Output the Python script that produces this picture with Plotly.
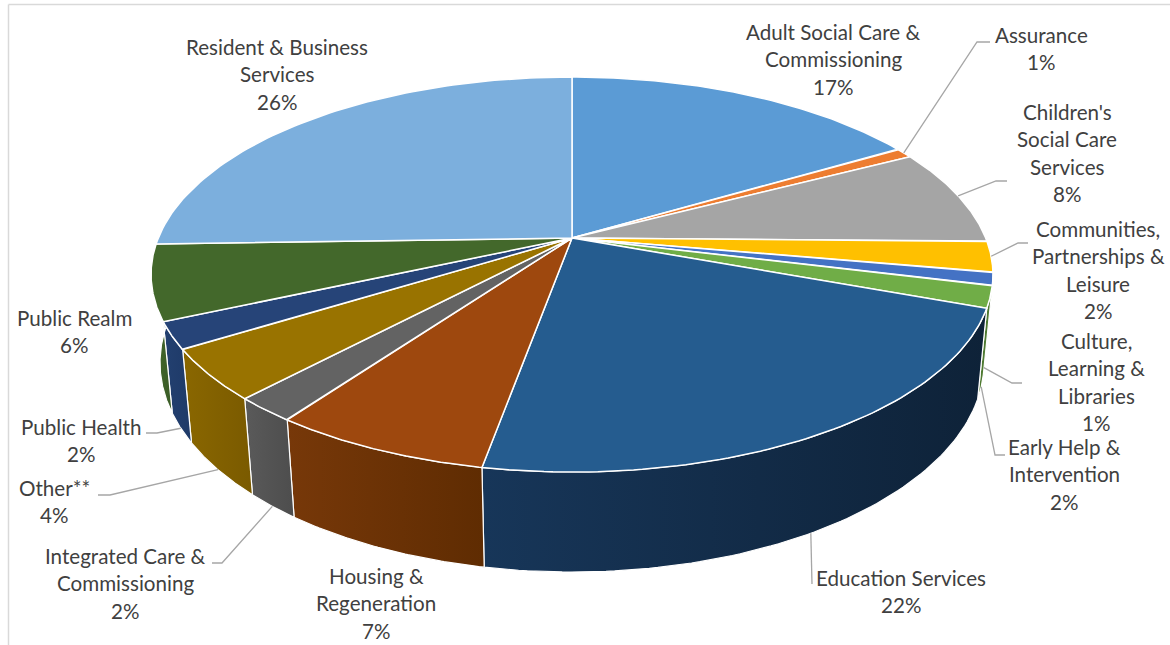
import numpy as np
import plotly.graph_objects as go

# ---- data ----
names = ["Adult Social Care &\nCommissioning", "Assurance", "Children's\nSocial Care\nServices",
         "Communities,\nPartnerships &\nLeisure", "Culture,\nLearning &\nLibraries",
         "Early Help &\nIntervention", "Education Services", "Housing &\nRegeneration",
         "Integrated Care &\nCommissioning", "Other**", "Public Health", "Public Realm",
         "Resident & Business\nServices"]
values = [16.5, 0.85, 7.9, 2.5, 1.05, 1.8, 22.25, 7.1, 2.05, 4.15, 2.2, 6.15, 25.5]
percent_labels = ["17%", "1%", "8%", "2%", "1%", "2%", "22%", "7%", "2%", "4%", "2%", "6%", "26%"]

# ---- style ----
top_colors = ["#5B9BD5", "#ED7D31", "#A5A5A5", "#FFC000", "#4472C4", "#70AD47", "#255C8F",
              "#9E480E", "#636363", "#997300", "#264478", "#43682B", "#7CAFDD"]
wall_left = ["#3f6f9a", "#a85820", "#777777", "#b58a00", "#304f8c", "#4f7a32", "#173659",
             "#773809", "#5a5a5a", "#8a6700", "#234070", "#43682B", "#5a7f9f"]
wall_right = ["#3f6f9a", "#a85820", "#777777", "#b58a00", "#304f8c", "#4f7a32", "#0e2238",
              "#5f2c02", "#4d4d4d", "#7a5a00", "#1e3a68", "#3a5c26", "#5a7f9f"]
# label layout: centre x, y of first line (pixels)
label_x = [833, 1041, 1067, 1098, 1096, 1064, 901, 376, 125, 54, 81, 74, 277]
label_y = [32, 35, 112, 229, 341, 447, 578, 576, 556, 488, 427, 318, 47]
line_gap = 27.4
# leaders: which rim the line starts on (0 = top, 1 = bottom), then elbow and end pixels
leader_rim = {1: 0, 2: 0, 3: 0, 4: 1, 5: 1, 6: 1, 8: 1, 9: 1, 10: 1}
leader_path = {1: [(977, 42), (990, 42)], 2: [(996, 181), (1007, 181)], 3: [(1018, 243), (1028, 243)],
               4: [(1012, 383), (1022, 383)], 5: [(995, 455), (1005, 455)], 6: [(812, 584)],
               8: [(222, 563), (212, 563)], 9: [(110, 495), (98, 495)], 10: [(157, 433), (146, 433)]}

# perspective model of the disc (pixels)
CX, CY, A, B, K, M, C = 572, 238, 190.8, 413.7, 0.1848, 0.021, 88.5


def project(theta_deg, z):
    t = np.radians(theta_deg)
    u, v = np.sin(t), -np.cos(t)
    d = 1 - K * v + M * z
    return CX + B * u / d, CY + (A * v + C * z) / d


edges = np.concatenate([[0], np.cumsum(values)]) * 360 / np.sum(values)
fig = go.Figure()
NOHOVER = dict(hoverinfo="skip", showlegend=False)

# side walls
for i in range(len(values)):
    th = np.linspace(edges[i], edges[i + 1], 80)
    xt, yt = project(th, 0)
    xb, yb = project(th, 1)
    xs = np.concatenate([xt, xb[::-1], xt[:1]])
    ys = np.concatenate([yt, yb[::-1], yt[:1]])
    fig.add_trace(go.Scatter(x=xs, y=ys, mode="lines", fill="toself",
                             line=dict(color="white", width=1.2),
                             fillgradient=dict(type="horizontal",
                                               colorscale=[[0, wall_left[i]], [1, wall_right[i]]]),
                             **NOHOVER))
# top faces
for i in range(len(values)):
    th = np.linspace(edges[i], edges[i + 1], 80)
    xt, yt = project(th, 0)
    fig.add_trace(go.Scatter(x=np.concatenate([[CX], xt, [CX]]), y=np.concatenate([[CY], yt, [CY]]),
                             mode="lines", fill="toself", fillcolor=top_colors[i],
                             line=dict(color="white", width=1.5), **NOHOVER))
# leader lines
for i, rim in leader_rim.items():
    x0, y0 = project((edges[i] + edges[i + 1]) / 2, rim)
    px = [x0] + [p[0] for p in leader_path[i]]
    py = [y0] + [p[1] for p in leader_path[i]]
    fig.add_trace(go.Scatter(x=px, y=py, mode="lines", line=dict(color="#A6A6A6", width=1.3), **NOHOVER))

# labels
for i, name in enumerate(names):
    for j, text in enumerate(name.split("\n") + [percent_labels[i]]):
        fig.add_annotation(x=label_x[i], y=label_y[i] + j * line_gap, text=text, showarrow=False,
                           xanchor="center", yanchor="middle",
                           font=dict(family="Lato", size=20.6, color="#404040"))

# chart frame
fig.add_shape(type="line", x0=8.5, x1=8.5, y0=4.5, y1=645, line=dict(color="#D9D9D9", width=1.5))
fig.add_shape(type="line", x0=8.5, x1=1170, y0=4.5, y1=4.5, line=dict(color="#D9D9D9", width=1.5))

fig.update_layout(width=1170, height=645, margin=dict(l=0, r=0, t=0, b=0),
                  paper_bgcolor="white", plot_bgcolor="white", showlegend=False,
                  xaxis=dict(range=[0, 1170], visible=False, fixedrange=True),
                  yaxis=dict(range=[645, 0], visible=False, fixedrange=True))
fig.write_html("out.html", config={"displayModeBar": False},
               post_script="document.body.style.margin='0';")
